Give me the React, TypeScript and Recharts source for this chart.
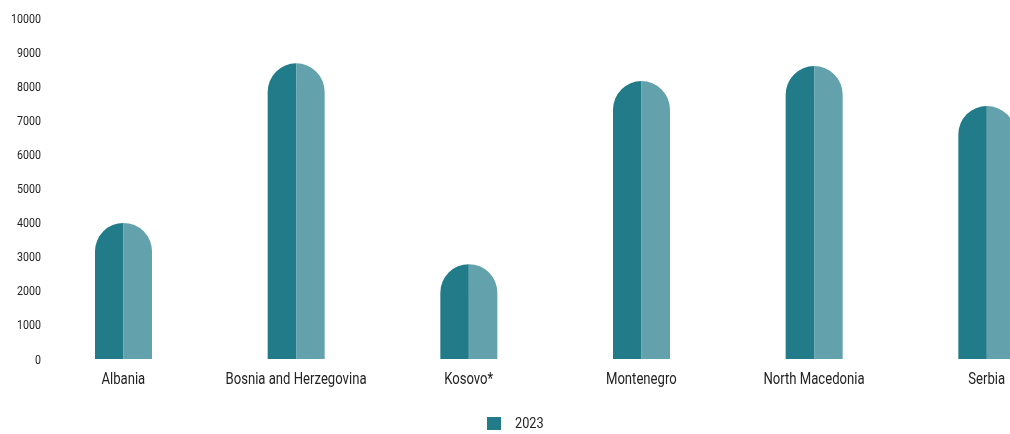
import { BarChart, Bar, XAxis, YAxis, Legend } from 'recharts'

const countries = ['Albania', 'Bosnia and Herzegovina', 'Kosovo*', 'Montenegro', 'North Macedonia', 'Serbia']
const values2023 = [3990, 8670, 2780, 8150, 8590, 7420]
const yTicks = [0, 1000, 2000, 3000, 4000, 5000, 6000, 7000, 8000, 9000, 10000]

const DARK = '#227b88'
const LIGHT = '#63a2ad'
const FONT = 'Roboto, sans-serif'
// Roboto squeezed to look like the condensed face of the original
const SQUEEZE = 0.82

const data = countries.map((name, i) => ({ name, v2023: values2023[i] }))

// bar drawn as two halves with a round cap
const HalfBar = (props: any) => {
  const { x, y, width, height } = props
  if (!height || height <= 0) return null
  const r = width / 2
  const cx = x + r
  const bottom = y + height
  const left = `M${x},${bottom} L${x},${y + r} A${r},${r} 0 0 1 ${cx},${y} L${cx},${bottom} Z`
  const right = `M${cx},${y} A${r},${r} 0 0 1 ${x + width},${y + r} L${x + width},${bottom} L${cx},${bottom} Z`
  return (
    <g>
      <path d={left} fill={DARK} />
      <path d={right} fill={LIGHT} />
    </g>
  )
}

const YTick = (props: any) => {
  const { x, y, payload } = props
  return (
    <text
      transform={`translate(${x + 4},${y}) scale(${SQUEEZE},1)`}
      dy="0.35em"
      textAnchor="end"
      fill="#222"
      fontSize={13}
      fontFamily={FONT}
    >
      {payload.value}
    </text>
  )
}

const XTick = (props: any) => {
  const { x, y, payload } = props
  return (
    <text
      transform={`translate(${x},${y}) scale(${SQUEEZE},1)`}
      dy="0.71em"
      textAnchor="middle"
      fill="#222"
      fontSize={16}
      fontFamily={FONT}
    >
      {payload.value}
    </text>
  )
}

const LegendBox = () => (
  <div style={{ height: 30, paddingTop: 8, boxSizing: 'border-box', paddingLeft: 479, display: 'flex', alignItems: 'center' }}>
    <span style={{ display: 'inline-block', width: 14, height: 13, background: DARK, marginRight: 14 }} />
    <span
      style={{
        fontFamily: FONT,
        fontSize: 15.5,
        color: '#222',
        display: 'inline-block',
        transform: `scaleX(${SQUEEZE})`,
        transformOrigin: 'left center',
      }}
    >
      2023
    </span>
  </div>
)

export default function App() {
  // the last bar runs past the right edge, like the original; fixed box keeps the page from scrolling
  return (
    <div style={{ position: 'fixed', left: 0, top: 0, width: 1010, height: 434, overflow: 'hidden' }}>
      <div style={{ position: 'absolute', left: 8, top: 8 }}>
        <BarChart
          width={1070}
          height={426}
          data={data}
          margin={{ top: 10, right: 5, left: 0, bottom: 0 }}
          barCategoryGap={0}
        >
          <XAxis
            dataKey="name"
            axisLine={false}
            tickLine={false}
            tickSize={0}
            tickMargin={14}
            height={45}
            interval={0}
            tick={<XTick />}
          />
          <YAxis
            width={29}
            domain={[0, 10000]}
            ticks={yTicks}
            axisLine={false}
            tickLine={false}
            tickSize={0}
            tickMargin={0}
            interval={0}
            tick={<YTick />}
          />
          <Legend verticalAlign="bottom" content={<LegendBox />} />
          <Bar dataKey="v2023" name="2023" fill={DARK} barSize={57} shape={<HalfBar />} isAnimationActive={false} />
        </BarChart>
      </div>
    </div>
  )
}
